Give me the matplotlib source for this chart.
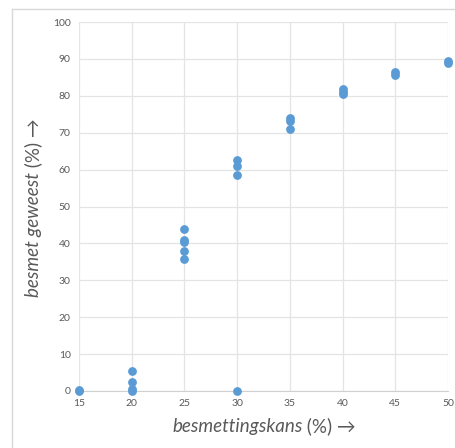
import matplotlib.pyplot as plt
from matplotlib.lines import Line2D

plt.rcParams['font.family'] = ['Lato', 'DejaVu Sans']

# besmettingskans (%) en besmet geweest (%)
kans = [15, 15, 20, 20, 20, 20, 25, 25, 25, 25, 25,
        30, 30, 30, 30, 35, 35, 35, 40, 40, 40, 45, 45, 50, 50]
besmet = [0, 0.3, 5.5, 2.5, 0.5, 0, 44, 41, 40.4, 38, 35.7,
          62.7, 61, 58.5, 0, 74, 73.3, 71, 81.8, 81, 80.5, 86.5, 85.6, 89.4, 88.9]
x_ticks = [15, 20, 25, 30, 35, 40, 45, 50]
y_ticks = [0, 10, 20, 30, 40, 50, 60, 70, 80, 90, 100]

fig = plt.figure(figsize=(4.56, 4.48), dpi=100)
ax = fig.add_axes([79/456, 1 - 391/448, (448 - 79)/456, (391 - 22)/448])

# rand om de grafiek
fig.add_artist(Line2D([12/456, 12/456], [0, 1 - 9/448], color='#d9d9d9', lw=1))
fig.add_artist(Line2D([12/456, 1], [1 - 9/448, 1 - 9/448], color='#d9d9d9', lw=1))

ax.scatter(kans, besmet, s=28, color='#5b9bd5', zorder=3, clip_on=False)

ax.set_xlim(15, 50)
ax.set_ylim(0, 100)
ax.set_xticks(x_ticks)
ax.set_yticks(y_ticks)
ax.grid(True, color='#e4e4e4', lw=0.9)
ax.set_axisbelow(True)
for s in ['top', 'right', 'left']:
    ax.spines[s].set_visible(False)
ax.spines['bottom'].set_color('#d0d0d0')
ax.tick_params(length=0, labelsize=7.5, labelcolor='#595959', pad=6)

fig.canvas.draw()
r = fig.canvas.get_renderer()

# x-as titel: cursief deel + rechtop deel
t1 = fig.text(0, 0, 'besmettingskans', fontsize=13.5, style='italic',
              color='#595959', ha='left', va='center')
t2 = fig.text(0, 0, ' (%) \u2192', fontsize=13.5, color='#595959',
              ha='left', va='center')
w1 = t1.get_window_extent(r).width
w2 = t2.get_window_extent(r).width
x0 = 264 - (w1 + w2) / 2
t1.set_position((x0 / 456, 1 - 426/448))
t2.set_position(((x0 + w1) / 456, 1 - 426/448))

# y-as titel
u1 = fig.text(33/456, 0, 'besmet geweest', fontsize=13.5, style='italic',
              color='#595959', rotation=90, ha='center', va='bottom')
u2 = fig.text(33/456, 0, ' (%) \u2192', fontsize=13.5, color='#595959',
              rotation=90, ha='center', va='bottom')
h1 = u1.get_window_extent(r).height
h2 = u2.get_window_extent(r).height
y0 = (448 - 208) - (h1 + h2) / 2
u1.set_y(y0 / 448)
u2.set_y((y0 + h1) / 448)

fig.savefig('out.png', dpi=100)
